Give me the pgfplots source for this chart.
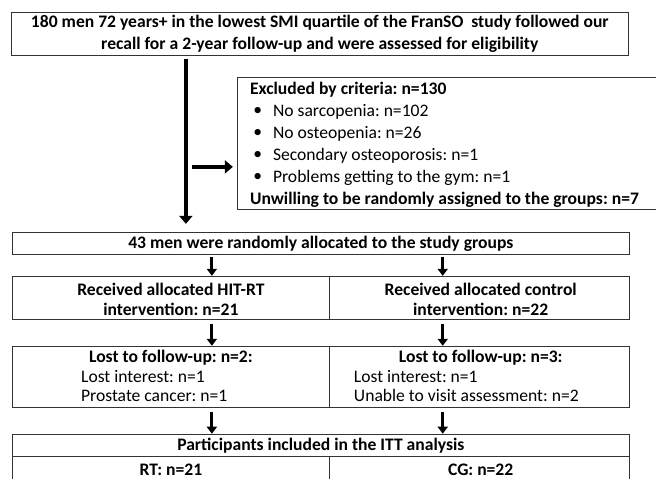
\documentclass[border=0pt]{standalone}
\usepackage{pgfplots}
\pgfplotsset{compat=1.18}
\usepackage{fontspec}
\setmainfont{Carlito}
\usetikzlibrary{arrows.meta}
\frenchspacing
\tikzset{
  box/.style={black!80,line width=0.8pt},
  bigarrow/.style={black,line width=4pt,-{Triangle[width=13pt,length=8pt]}},
  smallarrow/.style={black,line width=3pt,-{Triangle[width=10pt,length=7pt]}},
  txt/.style={font=\fontsize{17.6}{20}\selectfont,inner sep=0pt},
  btxt/.style={font=\fontsize{17.6}{20}\selectfont\bfseries,inner sep=0pt}}
\begin{document}
\begin{tikzpicture}
\begin{axis}[width=656pt,height=479pt,scale only axis,
  xmin=0,xmax=656,ymin=0,ymax=479,y dir=reverse,
  axis lines=none,ticks=none,clip=false,every axis plot/.append style={no markers}]
\path (axis cs:0,0) (axis cs:656,479);
% boxes
\addplot[box] coordinates {(11,12) (629,12) (629,55) (11,55) (11,12)};
\addplot[box] coordinates {(656,77) (238,77) (238,210) (656,210)};
\addplot[box] coordinates {(12,233) (630,233) (630,255) (12,255) (12,233)};
\addplot[box] coordinates {(12,277) (630,277) (630,320) (12,320) (12,277)};
\addplot[box] coordinates {(330,277) (330,320)};
\addplot[box] coordinates {(12,347) (630,347) (630,408) (12,408) (12,347)};
\addplot[box] coordinates {(330,347) (330,408)};
\addplot[box] coordinates {(12,479) (12,435) (630,435) (630,479)};
\addplot[box] coordinates {(12,457) (630,457)};
\addplot[box] coordinates {(330,457) (330,479)};
% arrows
\addplot[bigarrow] coordinates {(186,59) (186,224)};
\addplot[bigarrow,line width=3.5pt] coordinates {(192,167) (233,167)};
\addplot[smallarrow] coordinates {(212,257) (212,276)};
\addplot[smallarrow] coordinates {(443,257) (443,276)};
\addplot[smallarrow] coordinates {(212,324) (212,346)};
\addplot[smallarrow] coordinates {(443,324) (443,346)};
\addplot[smallarrow] coordinates {(212,412) (212,434)};
\addplot[smallarrow] coordinates {(443,412) (443,434)};
% texts
\node[btxt] at (axis cs:320,23) {180 men 72 years+ in the lowest SMI quartile of the FranSO\ \ study followed our};
\node[btxt] at (axis cs:320,45) {recall for a 2-year follow-up and were assessed for eligibility};
\node[btxt,anchor=west] at (axis cs:250,90) {Excluded by criteria: n=130};
\node[txt] at (axis cs:258,112) {\textbullet};
\node[txt] at (axis cs:258,134) {\textbullet};
\node[txt] at (axis cs:258,156) {\textbullet};
\node[txt] at (axis cs:258,178) {\textbullet};
\node[txt,anchor=west] at (axis cs:273,112) {No sarcopenia: n=102};
\node[txt,anchor=west] at (axis cs:273,134) {No osteopenia: n=26};
\node[txt,anchor=west] at (axis cs:273,156) {Secondary osteoporosis: n=1};
\node[txt,anchor=west] at (axis cs:273,178) {Problems getting to the gym: n=1};
\node[btxt,anchor=west] at (axis cs:250,200) {Unwilling to be randomly assigned to the groups: n=7};
\node[btxt] at (axis cs:321,244) {43 men were randomly allocated to the study groups};
\node[btxt] at (axis cs:171,290) {Received allocated HIT-RT};
\node[btxt] at (axis cs:171,310) {intervention: n=21};
\node[btxt] at (axis cs:481,290) {Received allocated control};
\node[btxt] at (axis cs:481,310) {intervention: n=22};
\node[btxt] at (axis cs:171,358) {Lost to follow-up: n=2:};
\node[txt,anchor=west] at (axis cs:81,377) {Lost interest: n=1};
\node[txt,anchor=west] at (axis cs:81,396) {Prostate cancer: n=1};
\node[btxt] at (axis cs:481,358) {Lost to follow-up: n=3:};
\node[txt,anchor=west] at (axis cs:354,377) {Lost interest: n=1};
\node[txt,anchor=west] at (axis cs:354,396) {Unable to visit assessment: n=2};
\node[btxt] at (axis cs:321,446) {Participants included in the ITT analysis};
\node[btxt] at (axis cs:171,470) {RT: n=21};
\node[btxt] at (axis cs:481,470) {CG: n=22};
\end{axis}
\end{tikzpicture}
\end{document}
